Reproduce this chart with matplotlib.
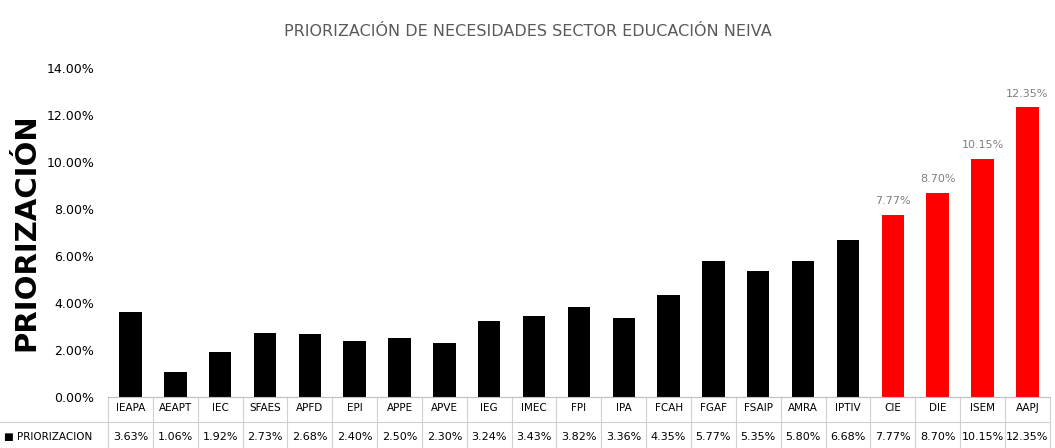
import matplotlib.pyplot as plt
import matplotlib.transforms as mtransforms

# Datos
categorias = ["IEAPA", "AEAPT", "IEC", "SFAES", "APFD", "EPI", "APPE", "APVE", "IEG", "IMEC",
              "FPI", "IPA", "FCAH", "FGAF", "FSAIP", "AMRA", "IPTIV", "CIE", "DIE", "ISEM", "AAPJ"]
valores = [3.63, 1.06, 1.92, 2.73, 2.68, 2.40, 2.50, 2.30, 3.24, 3.43,
           3.82, 3.36, 4.35, 5.77, 5.35, 5.80, 6.68, 7.77, 8.70, 10.15, 12.35]
destacados = ["CIE", "DIE", "ISEM", "AAPJ"]

plt.rcParams['font.family'] = ['DejaVu Sans']

fig = plt.figure(figsize=(10.55, 4.48), dpi=100)
ax = fig.add_axes([0.1024, 0.1138, 0.8926, 0.734])

x = list(range(len(categorias)))
colores = ["#ff0000" if c in destacados else "#000000" for c in categorias]
ax.bar(x, valores, width=0.5, color=colores)

for xi, c, v in zip(x, categorias, valores):
    if c in destacados:
        ax.text(xi, v + 0.35, f"{v:.2f}%", ha="center", va="bottom", fontsize=8, color="#7f7f7f")

ax.set_xlim(-0.5, len(categorias) - 0.5)
ax.set_ylim(0, 14)
ax.set_yticks(range(0, 15, 2))
ax.set_yticklabels([f"{t:.2f}%" for t in range(0, 15, 2)], fontsize=9)
ax.set_xticks([])
for s in ["top", "right", "left"]:
    ax.spines[s].set_visible(False)
ax.spines["bottom"].set_color("#bfbfbf")
ax.tick_params(axis="y", length=0, pad=10)

ax.set_ylabel("PRIORIZACIÓN", fontsize=21, fontweight="bold", labelpad=8)
ax.yaxis.set_label_coords(-0.072, 0.5)

fig.text(0.5, 0.93, "PRIORIZACIÓN DE NECESIDADES SECTOR EDUCACIÓN NEIVA",
         ha="center", va="center", fontsize=11.5, color="#595959")

# Tabla de datos
trans = mtransforms.blended_transform_factory(ax.transData, fig.transFigure)
y_top = 51 / 448
y_mid = 26 / 448
y_row1 = 40 / 448
y_row2 = 11 / 448
gris = "#d0d0d0"
for xi in range(len(categorias) + 1):
    ax.plot([xi - 0.5, xi - 0.5], [0, y_top], transform=trans, color=gris, lw=0.8, clip_on=False)
ax.plot([-0.5, len(categorias) - 0.5], [y_mid, y_mid], transform=trans, color=gris, lw=0.8, clip_on=False)
fig.add_artist(plt.Line2D([0.0, 0.1024], [y_mid, y_mid], color=gris, lw=0.8))
for xi, c, v in zip(x, categorias, valores):
    ax.text(xi, y_row1, c, transform=trans, ha="center", va="center", fontsize=7.5)
    ax.text(xi, y_row2, f"{v:.2f}%", transform=trans, ha="center", va="center", fontsize=8)
fig.text(0.004, y_row2, "■ PRIORIZACION", ha="left", va="center", fontsize=7.5)

fig.savefig("out.png", dpi=100)
